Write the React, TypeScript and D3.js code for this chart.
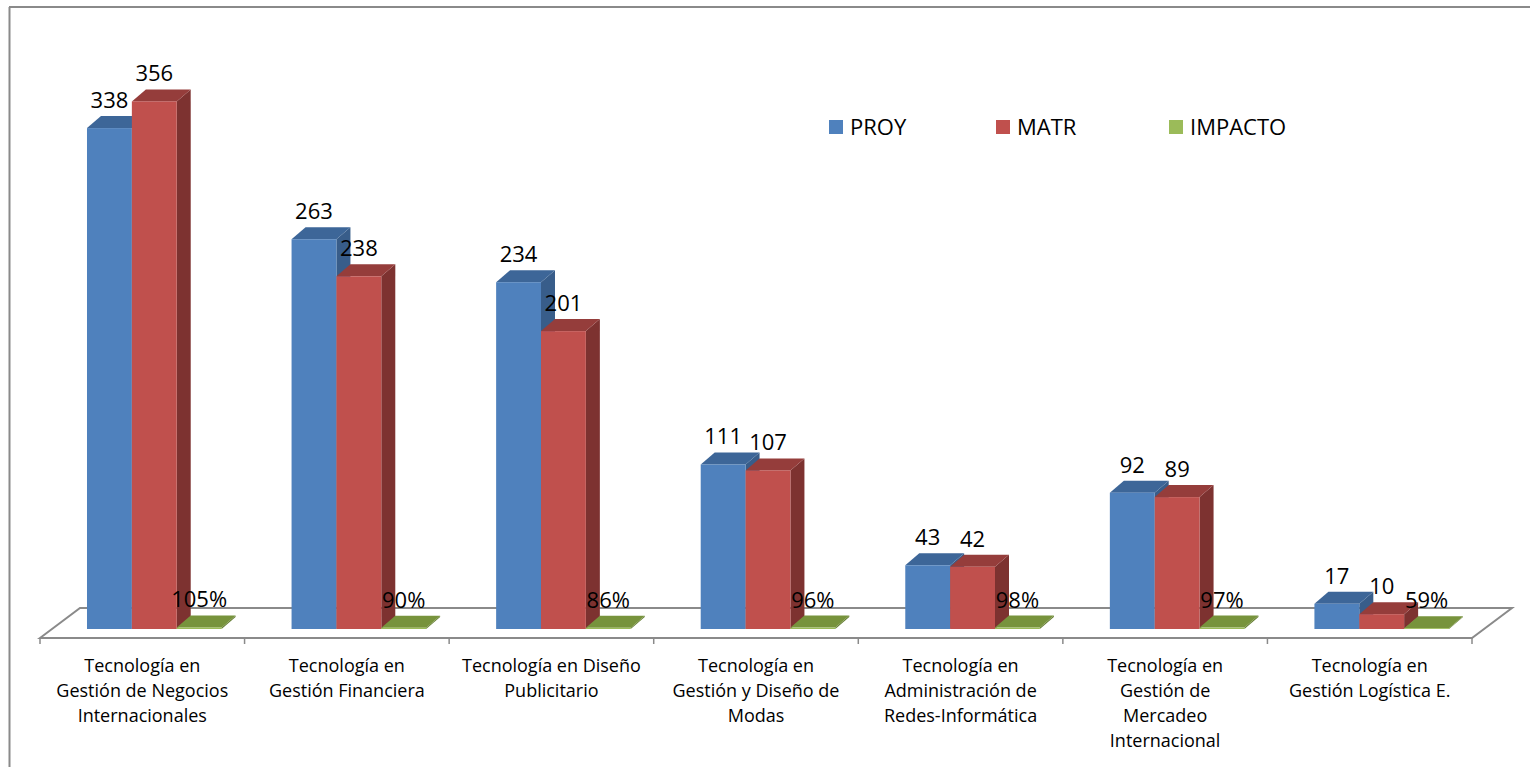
import React from 'react'
import * as d3 from 'd3'

const categories = [
  ['Tecnología en', 'Gestión de Negocios', 'Internacionales'],
  ['Tecnología en', 'Gestión Financiera'],
  ['Tecnología en Diseño', 'Publicitario'],
  ['Tecnología en', 'Gestión y Diseño de', 'Modas'],
  ['Tecnología en', 'Administración de', 'Redes-Informática'],
  ['Tecnología en', 'Gestión de', 'Mercadeo', 'Internacional'],
  ['Tecnología en', 'Gestión Logística E.']
]

const seriesNames = ['PROY', 'MATR', 'IMPACTO']
const proy = [338, 263, 234, 111, 43, 92, 17]
const matr = [356, 238, 201, 107, 42, 89, 10]
const impacto = [1.05, 0.9, 0.86, 0.96, 0.98, 0.97, 0.59]

const colors = {
  PROY: { front: '#4f81bd', top: '#3d6698', side: '#385d8a' },
  MATR: { front: '#c0504d', top: '#953d3b', side: '#7d3230' },
  IMPACTO: { front: '#9bbb59', top: '#77933c', side: '#667f34' }
}

const font = '"Open Sans", "Liberation Sans", sans-serif'

const App = () => {
  const width = 1530,
    height = 767,
    floorFront = 638,
    floorLeft = 40,
    floorRight = 1472,
    floorDx = 40,
    floorDy = 30,
    // bar front plane sits a bit behind the floor front edge
    offX = 12,
    offY = 9,
    depthX = 14,
    depthY = 12

  const keys = categories.map((d, i) => 'c' + i)

  const x0 = d3.scaleBand().domain(keys).range([floorLeft, floorRight])
  const x1 = d3
    .scaleBand()
    .domain(seriesNames)
    .range([0, x0.bandwidth()])
    .paddingInner(0)
    .paddingOuter(0.78)

  const base = floorFront - offY
  const y = d3.scaleLinear().domain([0, 400]).range([base, base - 592.8])

  const values = { PROY: proy, MATR: matr, IMPACTO: impacto }
  const fmt = (s, v) => (s === 'IMPACTO' ? d3.format('.0%')(v) : String(v))

  const bars = []
  keys.forEach((k, ci) => {
    seriesNames.forEach(s => {
      const v = values[s][ci]
      const xl = x0(k) + x1(s) + offX
      const xr = xl + x1.bandwidth()
      const yt = y(v)
      bars.push({ s, v, xl, xr, yt, ci })
    })
  })

  return (
    <svg
      width={width}
      height={height}
      style={{ position: 'absolute', left: 0, top: 0, background: '#fff' }}>
      {/* outer frame */}
      <line x1={9} y1={7} x2={width} y2={7} stroke='#8a8a8a' strokeWidth={2} />
      <line x1={9.5} y1={7} x2={9.5} y2={height} stroke='#8a8a8a' strokeWidth={2} />

      {/* floor */}
      <path
        d={`M${floorLeft},${floorFront}L${floorLeft + floorDx},${floorFront - floorDy}L${floorRight + floorDx},${floorFront - floorDy}L${floorRight},${floorFront}Z`}
        fill='none'
        stroke='#8a8a8a'
        strokeWidth={2}
      />
      {keys.concat(['end']).map((k, i) => {
        const xx = i < keys.length ? x0(k) : floorRight
        return (
          <line key={i} x1={xx} x2={xx} y1={floorFront} y2={floorFront + 6} stroke='#8a8a8a' strokeWidth={1.5} />
        )
      })}

      {/* 3D bars */}
      {bars.map((b, i) => {
        const c = colors[b.s]
        return (
          <g key={i}>
            <path
              d={`M${b.xr},${b.yt}L${b.xr + depthX},${b.yt - depthY}L${b.xr + depthX},${base - depthY}L${b.xr},${base}Z`}
              fill={c.side}
            />
            <path
              d={`M${b.xl},${b.yt}L${b.xl + depthX},${b.yt - depthY}L${b.xr + depthX},${b.yt - depthY}L${b.xr},${b.yt}Z`}
              fill={c.top}
            />
            <rect x={b.xl} y={b.yt} width={b.xr - b.xl} height={base - b.yt} fill={c.front} />
          </g>
        )
      })}

      {/* value labels */}
      {bars.map((b, i) => (
        <text
          key={i}
          x={(b.xl + b.xr) / 2}
          y={b.yt - depthY - 8}
          textAnchor='middle'
          fontFamily={font}
          fontSize={22}
          fill='#000'>
          {fmt(b.s, b.v)}
        </text>
      ))}

      {/* category labels */}
      {categories.map((lines, i) => (
        <text
          key={i}
          x={x0(keys[i]) + x0.bandwidth() / 2}
          y={672}
          textAnchor='middle'
          fontFamily={font}
          fontSize={18}
          fill='#000'>
          {lines.map((l, li) => (
            <tspan key={li} x={x0(keys[i]) + x0.bandwidth() / 2} dy={li === 0 ? 0 : 25}>
              {l}
            </tspan>
          ))}
        </text>
      ))}

      {/* legend */}
      {seriesNames.map((s, i) => {
        const lx = [829, 996, 1169][i]
        return (
          <g key={s} transform={`translate(${lx},120)`}>
            <rect width={14} height={14} fill={colors[s].front} />
            <text x={21} y={15} fontFamily={font} fontSize={22} fill='#000'>
              {s}
            </text>
          </g>
        )
      })}
    </svg>
  )
}

export default App
